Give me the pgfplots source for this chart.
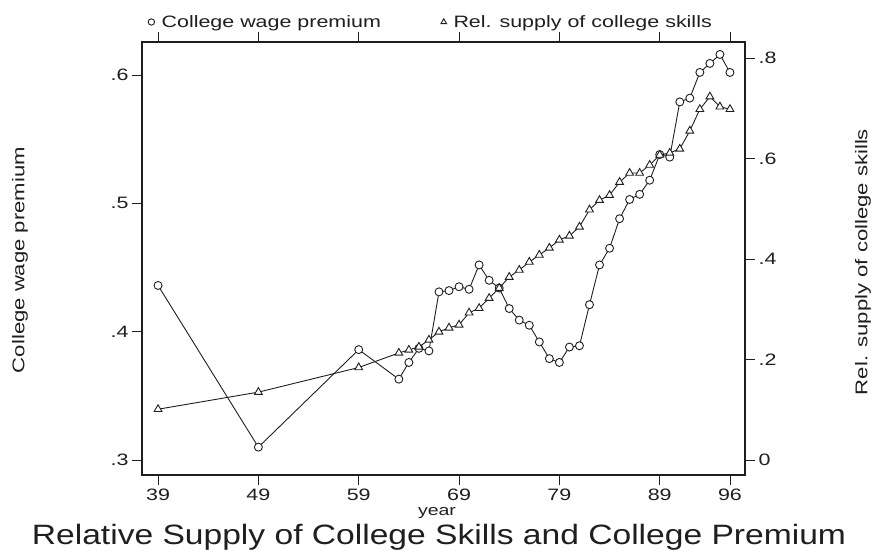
\documentclass[border=0pt]{standalone}
\usepackage{pgfplots}
\pgfplotsset{compat=1.18}
\usepackage{fontspec}
\setmainfont[FakeStretch=1.3]{Liberation Sans}
\newfontfamily\titlefont[FakeStretch=1.2]{Liberation Sans}
\definecolor{ink}{gray}{0.12}
\begin{document}
\begin{tikzpicture}
\pgfplotsset{
 common/.style={
  at={(0pt,0pt)}, anchor=south west, scale only axis, width=603pt, height=433pt,
  xmin=37.4, xmax=97.5,
  tick align=outside, major tick length=10pt,
  axis line style={ink, line width=1.1pt},
  every tick/.style={ink, line width=0.9pt},
  tick label style={font=\fontsize{16.5}{18}\selectfont, text=ink},
  label style={font=\fontsize{17}{19}\selectfont, text=ink},
 },
 circ/.style={ink, line width=0.9pt, mark=*, mark size=4pt, mark options={solid, fill=white, draw=ink, line width=0.9pt}},
 tri/.style={ink, line width=0.9pt, mark=triangle*, mark size=4.5pt, mark options={solid, fill=white, draw=ink, line width=0.9pt}},
}
\begin{axis}[common,
 ymin=0.2883, ymax=0.6257,
 ytick={0.3,0.4,0.5,0.6}, yticklabels={.3,.4,.5,.6},
 ytick pos=left,
 xtick={39,49,59,69,79,89,96}, xticklabels={39,49,59,69,79,89,96},
 xtick pos=both, xticklabel pos=lower,
 ylabel={College wage premium},
 ylabel style={at={(axis description cs:-0.2023,0.4965)}, anchor=center},
 legend image code/.code={\draw[#1, mark size=3.2pt] plot coordinates {(0.15cm,0cm)};},
 legend style={at={(axis description cs:0,1)}, anchor=west, yshift=20pt, xshift=3pt,
   draw=none, fill=none, legend columns=2,
   font=\fontsize{16.5}{18}\selectfont, text=ink,
   /tikz/every odd column/.append style={column sep=5pt},
   /tikz/every even column/.append style={column sep=58pt}},
]
\addplot[circ] coordinates {
(39,0.436) (49,0.310) (59,0.386) (63,0.363) (64,0.376) (65,0.387) (66,0.385)
(67,0.431) (68,0.432) (69,0.435) (70,0.433) (71,0.452) (72,0.440) (73,0.434)
(74,0.418) (75,0.409) (76,0.405) (77,0.392) (78,0.379) (79,0.376) (80,0.388)
(81,0.389) (82,0.421) (83,0.452) (84,0.465) (85,0.488) (86,0.503) (87,0.507)
(88,0.518) (89,0.538) (90,0.536) (91,0.579) (92,0.582) (93,0.602) (94,0.609)
(95,0.616) (96,0.602)};
\addlegendentry{College wage premium}
\addlegendimage{tri}
\addlegendentry{Rel. supply of college skills}
\end{axis}
\begin{axis}[common,
 axis x line=none, axis y line*=right,
 ymin=-0.0299, ymax=0.8318,
 ytick={0,0.2,0.4,0.6,0.8}, yticklabels={0,.2,.4,.6,.8},
 ylabel={Rel. supply of college skills},
 ylabel style={at={(axis description cs:1.1957,0.492)}, anchor=center},
]
\addplot[tri] coordinates {
(39,0.101) (49,0.135) (59,0.184) (63,0.213) (64,0.219) (65,0.225) (66,0.239)
(67,0.255) (68,0.263) (69,0.269) (70,0.293) (71,0.302) (72,0.322) (73,0.342)
(74,0.364) (75,0.378) (76,0.394) (77,0.408) (78,0.422) (79,0.438) (80,0.446)
(81,0.464) (82,0.498) (83,0.517) (84,0.527) (85,0.553) (86,0.571) (87,0.571)
(88,0.587) (89,0.607) (90,0.611) (91,0.619) (92,0.655) (93,0.698) (94,0.723)
(95,0.703) (96,0.698)};
\end{axis}
\node[font=\fontsize{15}{17}\selectfont, text=ink] at (295pt,-38pt) {year};
\node[font=\titlefont\fontsize{28}{32}\selectfont, text=ink] at (297pt,-62pt) {Relative Supply of College Skills and College Premium};
\pgfresetboundingbox
\useasboundingbox (-142pt,-80pt) rectangle (736pt,475pt);
\end{tikzpicture}
\end{document}
